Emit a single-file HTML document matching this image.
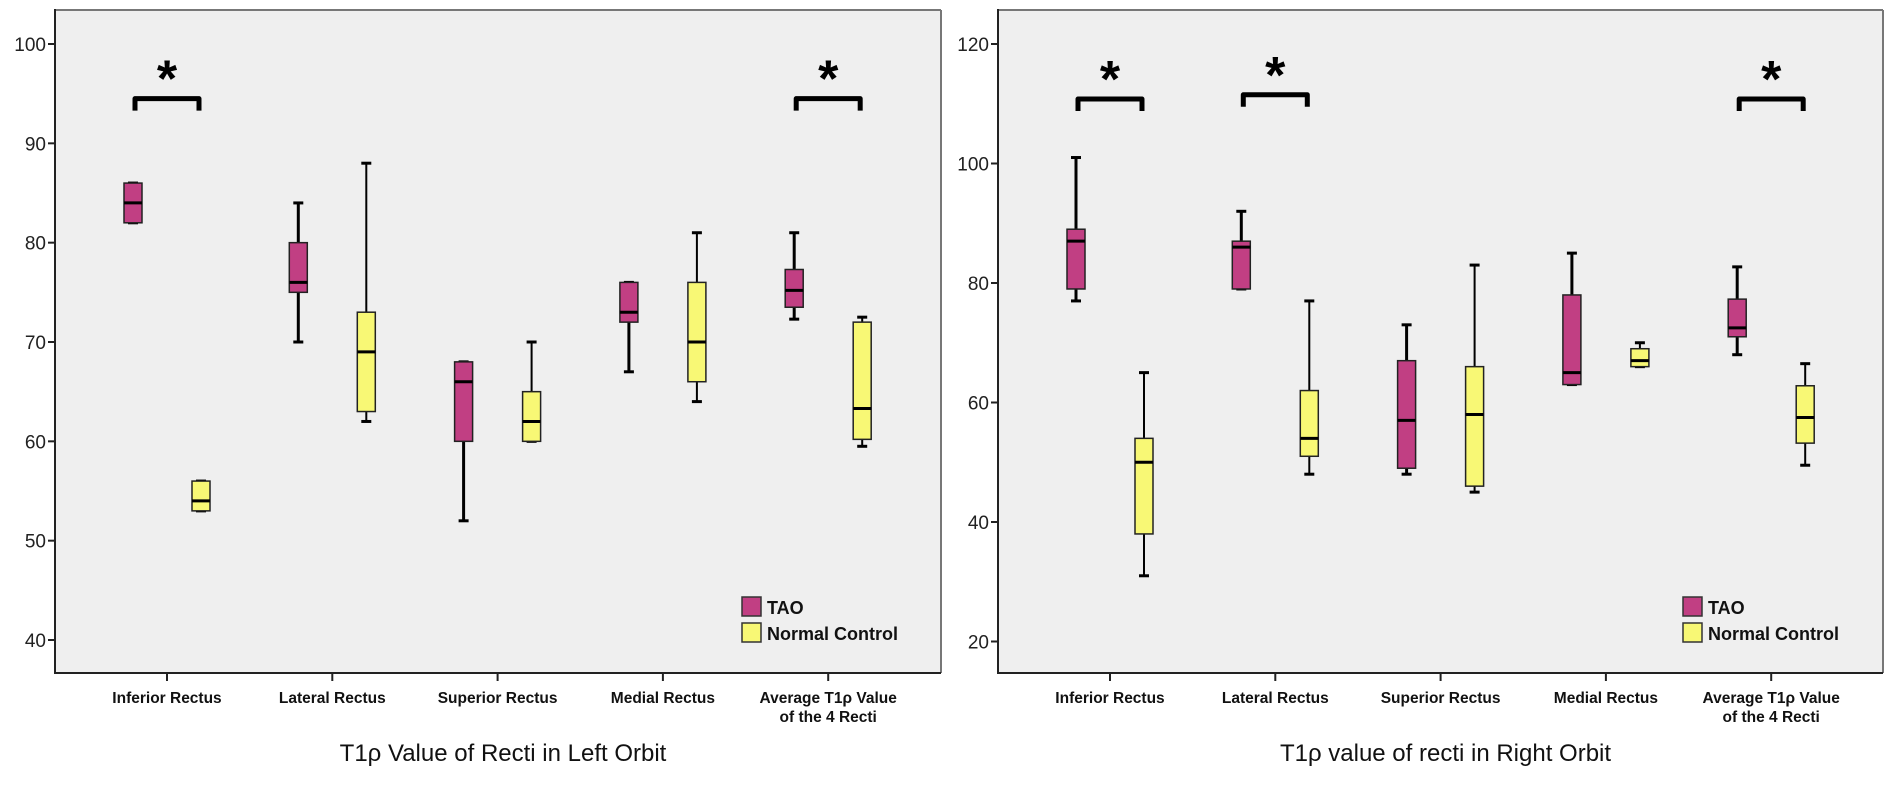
<!DOCTYPE html>
<html><head><meta charset="utf-8"><style>
html,body{margin:0;padding:0;background:#fff;}
svg{display:block;font-family:"Liberation Sans",Arial,sans-serif;}
</style></head><body>
<svg id="chart" width="1887" height="787" viewBox="0 0 1887 787" xmlns="http://www.w3.org/2000/svg"></svg>
<script>
const categories = ["Inferior Rectus","Lateral Rectus","Superior Rectus","Medial Rectus","Average T1\u03c1 Value|of the 4 Recti"];
// [whiskerLow, q1, median, q3, whiskerHigh]
const leftTAO = [[82,82,84,86,86],[70,75,76,80,84],[52,60,66,68,68],[67,72,73,76,76],[72.3,73.5,75.2,77.3,81]];
const leftNC  = [[53,53,54,56,56],[62,63,69,73,88],[60,60,62,65,70],[64,66,70,76,81],[59.5,60.2,63.3,72,72.5]];
const rightTAO = [[77,79,87,89,101],[79,79,86,87,92],[48,49,57,67,73],[63,63,65,78,85],[68,71,72.5,77.3,82.7]];
const rightNC  = [[31,38,50,54,65],[48,51,54,62,77],[45,46,58,66,83],[66,66,67,69,70],[49.5,53.2,57.5,62.8,66.5]];
const leftTicks = [40,50,60,70,80,90,100];
const rightTicks = [20,40,60,80,100,120];
const leftSig = [[0,94.5],[4,94.5]];
const rightSig = [[0,110.8],[1,111.5],[4,110.8]];
const svg = document.getElementById('chart');
const NS = "http://www.w3.org/2000/svg";
function mk(tag, attrs, parent){const e=document.createElementNS(NS,tag);for(const k in attrs)e.setAttribute(k,attrs[k]);(parent||svg).appendChild(e);return e;}

function panel(cfg){
  const g = mk('g',{});
  
  
  const y = v => cfg.y0 + (v - cfg.v0) * (cfg.y1 - cfg.y0) / (cfg.v1 - cfg.v0);
  const x = i => cfg.cx0 + i * cfg.step;
  const bg = mk('rect',{x:cfg.left,y:10,width:cfg.right-cfg.left,height:663,fill:'#efefef',stroke:'none'},g);
  
  
  mk('line',{x1:cfg.left,y1:10,x2:cfg.right,y2:10,stroke:'#777','stroke-width':2},g);
  mk('line',{x1:cfg.right,y1:10,x2:cfg.right,y2:673,stroke:'#777','stroke-width':2},g);
  mk('line',{x1:cfg.left,y1:9,x2:cfg.left,y2:674,stroke:'#222','stroke-width':2},g);
  mk('line',{x1:cfg.left,y1:673,x2:cfg.right,y2:673,stroke:'#222','stroke-width':2},g);
  cfg.ticks.forEach(t=>{
    mk('line',{x1:cfg.left-7,y1:y(t),x2:cfg.left,y2:y(t),stroke:'#222','stroke-width':2},g);
    const tx = mk('text',{x:cfg.left-9,y:y(t)+7,'text-anchor':'end','font-size':19,fill:'#222'},g);
    tx.textContent = t;
    
    
  });
  categories.forEach((c,i)=>{
    mk('line',{x1:x(i),y1:673,x2:x(i),y2:681,stroke:'#222','stroke-width':2},g);
    const parts = c.split('|');
    parts.forEach((p,j)=>{
      const tx = mk('text',{x:x(i),y:703+j*19,'text-anchor':'middle','font-size':15.5,'font-weight':'bold',fill:'#111'},g);
      tx.textContent = p;
      
      
    });
  });
  function box(d, cx, fill, ww, nm){
    const bg2 = mk('g',{},g);
    
    
    mk('line',{x1:cx,y1:y(d[0]),x2:cx,y2:y(d[1]),stroke:'#000','stroke-width':ww},bg2);
    mk('line',{x1:cx,y1:y(d[3]),x2:cx,y2:y(d[4]),stroke:'#000','stroke-width':ww},bg2);
    mk('line',{x1:cx-5,y1:y(d[0]),x2:cx+5,y2:y(d[0]),stroke:'#000','stroke-width':3},bg2);
    mk('line',{x1:cx-5,y1:y(d[4]),x2:cx+5,y2:y(d[4]),stroke:'#000','stroke-width':3},bg2);
    mk('rect',{x:cx-9,y:y(d[3]),width:18,height:Math.max(1,y(d[1])-y(d[3])),fill:fill,stroke:'#222','stroke-width':1.5},bg2);
    mk('line',{x1:cx-9,y1:y(d[2]),x2:cx+9,y2:y(d[2]),stroke:'#000','stroke-width':3},bg2);
  }
  categories.forEach((c,i)=>{
    box(cfg.tao[i], x(i)-34, '#c13f83', 3, 'box-tao');
    box(cfg.nc[i], x(i)+34, '#f8f875', 2, 'box-normal-control');
  });
  cfg.sig.forEach(s=>{
    const cx = x(s[0]), yy = y(s[1]);
    const p = mk('path',{d:`M${cx-32},${yy+12} V${yy} H${cx+32} V${yy+12}`,fill:'none',stroke:'#000','stroke-width':5,'stroke-linejoin':'round'},g);
    
    
    const a = mk('text',{x:cx,y:yy-2,'text-anchor':'middle','font-size':52,'font-weight':'bold',fill:'#000'},g);
    a.textContent='*';
    
    
  });
  const lg = mk('g',{},g);
  
  
  [['TAO','#c13f83',597],['Normal Control','#f8f875',623]].forEach(e=>{
    mk('rect',{x:cfg.legX,y:e[2],width:19,height:19,fill:e[1],stroke:'#333','stroke-width':1.5},lg);
    const t = mk('text',{x:cfg.legX+25,y:e[2]+17,'font-size':18,'font-weight':'bold',fill:'#111'},lg);
    t.textContent=e[0];
    
    
  });
  const tt = mk('text',{x:(cfg.left+cfg.right)/2+5,y:761,'text-anchor':'middle','font-size':24,fill:'#111'},g);
  tt.textContent = cfg.title;
  
  
}
panel({name:'left-orbit-panel',left:55,right:941,v0:100,y0:44,v1:40,y1:640,cx0:167,step:165.3,ticks:leftTicks,tao:leftTAO,nc:leftNC,sig:leftSig,legX:742,title:'T1\u03c1 Value of Recti in Left Orbit'});
panel({name:'right-orbit-panel',left:998,right:1883,v0:120,y0:44,v1:20,y1:641.5,cx0:1110,step:165.3,ticks:rightTicks,tao:rightTAO,nc:rightNC,sig:rightSig,legX:1683,title:'T1\u03c1 value of recti in Right Orbit'});
</script>
</body></html>
